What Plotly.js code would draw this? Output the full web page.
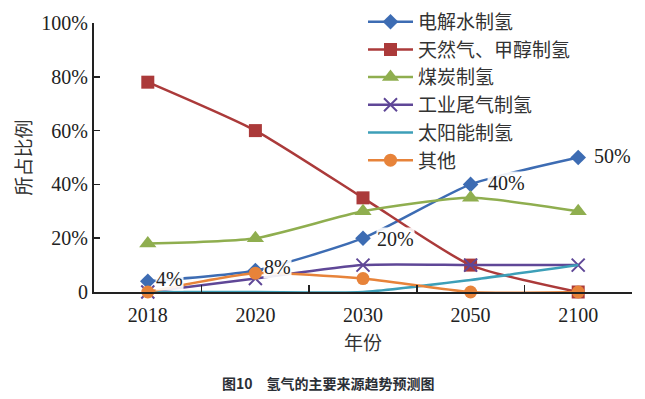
<!DOCTYPE html>
<html>
<head>
<meta charset="utf-8">
<script src="https://cdn.plot.ly/plotly-3.0.1.min.js"></script>
<style>html,body{margin:0;padding:0;background:#fff;}#chart{width:645px;height:399px;}</style>
</head>
<body>
<div id="chart"></div>
<script>
const years = ["2018", "2020", "2030", "2050", "2100"];
const seriesNames = ["电解水制氢", "天然气、甲醇制氢", "煤炭制氢", "工业尾气制氢", "太阳能制氢", "其他"];
const electrolysis = [0.04, 0.08, 0.20, 0.40, 0.50];
const gasMethanol = [0.78, 0.60, 0.35, 0.10, 0.00];
const coal = [0.18, 0.20, 0.30, 0.35, 0.30];
const industrial = [0.00, 0.05, 0.10, 0.10, 0.10];
const solar = [0.00, 0.00, 0.00, 0.045, 0.10];
const other = [0.00, 0.07, 0.05, 0.00, 0.00];
const electrolysisLabels = ["4%", "8%", "20%", "40%", "50%"];
const yTickVals = [0, 0.2, 0.4, 0.6, 0.8, 1.0];
const yTickText = ["0", "20%", "40%", "60%", "80%", "100%"];

const colors = ["#3d6cb3", "#ab3a3a", "#8fae4f", "#5f4797", "#3d9fb8", "#e7833a"];
const symbols = ["diamond", "square", "triangle-up", "x-thin", null, "circle"];
const sizes = [12, 13, 15, 13, 0, 13];
const values = [electrolysis, gasMethanol, coal, industrial, solar, other];

const traces = values.map((v, i) => {
  const t = {
    type: "scatter",
    x: years,
    y: v,
    name: seriesNames[i],
    mode: symbols[i] ? "lines+markers" : "lines",
    line: {color: colors[i], width: 2.5, shape: "spline", smoothing: 0.6},
    cliponaxis: false
  };
  if (symbols[i]) {
    t.marker = {symbol: symbols[i], size: sizes[i], color: colors[i],
      line: {color: colors[i], width: symbols[i] === "x-thin" ? 2 : 0}};
  }
  return t;
});

const xShifts = [7, 8, 13, 16, 15];
const yShifts = [2, 3, -1, 1, 2];
const annotations = years.map((yr, i) => ({
  x: i, y: electrolysis[i], xref: "x", yref: "y",
  text: electrolysisLabels[i], showarrow: false,
  xanchor: "left", yanchor: "middle", xshift: xShifts[i], yshift: yShifts[i],
  bgcolor: "rgba(255,255,255,0.9)", borderpad: 0,
  font: {family: "Liberation Serif, Times New Roman, serif", size: 20, color: "#222"}
}));
annotations.push({
  xref: "paper", yref: "paper", x: 0.435, y: -0.338, xanchor: "center", yanchor: "middle",
  text: "<b>图10　氢气的主要来源趋势预测图</b>", showarrow: false,
  font: {family: "Noto Sans CJK SC, sans-serif", size: 14, color: "#2b2f36"}
});

const layout = {
  width: 645, height: 399,
  margin: {l: 94, r: 13, t: 23, b: 107, autoexpand: false},
  paper_bgcolor: "#fff", plot_bgcolor: "#fff",
  showlegend: true,
  legend: {
    x: 0.5, y: 1.075, xanchor: "left", yanchor: "top",
    bgcolor: "rgba(0,0,0,0)",
    font: {family: "Noto Sans CJK SC, sans-serif", size: 19, color: "#333"},
    tracegroupgap: 0, itemwidth: 45
  },
  xaxis: {
    type: "category", range: [-0.5, 4.5], tickson: "boundaries",
    ticks: "inside", ticklen: 7, tickwidth: 1.5, tickcolor: "#222",
    showline: true, linecolor: "#222", linewidth: 2, showgrid: false, zeroline: false,
    ticklabelstandoff: 4,
    tickfont: {family: "Liberation Serif, Times New Roman, serif", size: 20, color: "#222"},
    title: {text: "年份", standoff: 12, font: {family: "Noto Sans CJK SC, sans-serif", size: 19, color: "#333"}}
  },
  yaxis: {
    range: [0, 1], tickvals: yTickVals, ticktext: yTickText,
    ticks: "inside", ticklen: 6, tickwidth: 1.5, tickcolor: "#222",
    showline: true, linecolor: "#222", linewidth: 2, showgrid: false, zeroline: false,
    tickfont: {family: "Liberation Serif, Times New Roman, serif", size: 20, color: "#222"},
    title: {text: "所占比例", standoff: 5, font: {family: "Noto Sans CJK SC, sans-serif", size: 19, color: "#333"}}
  },
  annotations: annotations
};

Plotly.newPlot("chart", traces, layout, {displayModeBar: false, staticPlot: true});
</script>
</body>
</html>
